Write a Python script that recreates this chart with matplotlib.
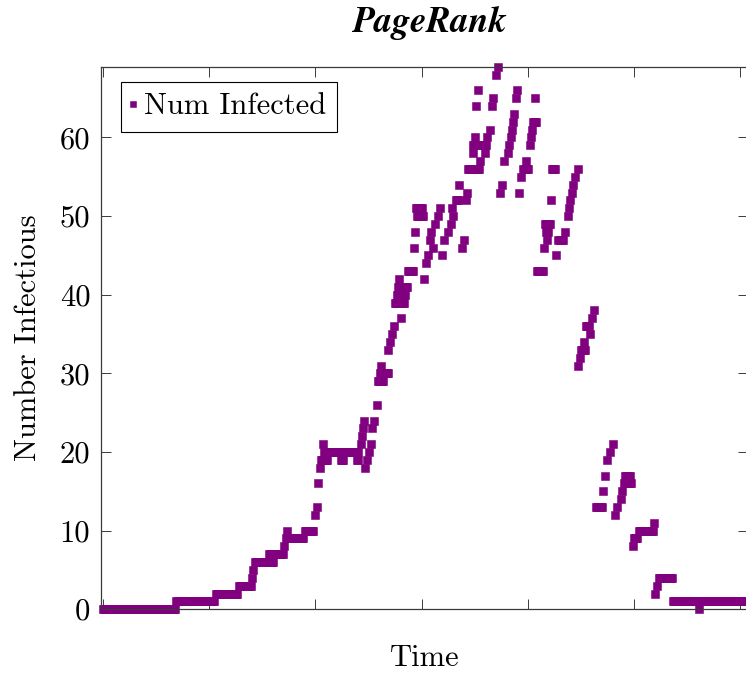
import numpy as np
import matplotlib

matplotlib.use("Agg")
import matplotlib.pyplot as plt

# runs of equal values: start time, end time, number infectious
run_start = [0, 69, 106, 128, 140, 141, 143, 156, 170, 172, 173, 190, 200, 201,
             202, 204, 205, 207, 208, 224, 239, 243, 244, 245, 246, 247, 249,
             250, 252, 253, 255, 258, 259, 261, 262, 268, 270, 272, 274, 275,
             277, 278, 279, 281, 287, 293, 294, 295, 296, 302, 304, 306, 308,
             309, 311, 313, 315, 317, 319, 321, 325, 328, 329, 330, 332, 335,
             338, 340, 342, 343, 344, 348, 348, 350, 351, 353, 355, 360, 362,
             364, 366, 367, 370, 372, 374, 376, 378, 381, 382, 384, 385, 386,
             387, 389, 390, 392, 394, 396, 398, 402, 403, 404, 405, 407, 409,
             415, 416, 417, 418, 422, 423, 427, 429, 435, 438, 439, 440, 442,
             443, 445, 447, 447, 449, 450, 453, 455, 459, 461, 462, 464, 471,
             473, 475, 478, 480, 482, 484, 488, 489, 491, 492, 499, 500, 505,
             519, 520, 522, 524, 537, 561]
run_end = [68, 104, 126, 139, 140, 141, 160, 169, 170, 188, 173, 198, 200, 201,
           202, 204, 211, 207, 240, 226, 240, 243, 244, 245, 246, 247, 249,
           250, 252, 253, 255, 258, 264, 268, 262, 268, 270, 272, 274, 283,
           284, 286, 279, 281, 292, 293, 294, 300, 301, 302, 304, 306, 308,
           309, 311, 313, 315, 317, 319, 321, 325, 328, 329, 330, 334, 335,
           338, 340, 342, 343, 354, 348, 361, 350, 351, 353, 355, 360, 362,
           364, 366, 367, 370, 372, 374, 376, 378, 381, 382, 384, 385, 386,
           387, 389, 390, 392, 394, 400, 398, 402, 403, 404, 408, 407, 414,
           415, 421, 419, 418, 422, 426, 427, 433, 435, 438, 439, 440, 442,
           443, 445, 447, 447, 449, 454, 453, 458, 459, 461, 462, 470, 471,
           473, 475, 478, 480, 482, 484, 488, 489, 497, 496, 499, 503, 518,
           519, 520, 522, 536, 607, 561]
run_value = [0, 1, 2, 3, 4, 5, 6, 7, 8, 9, 10, 10, 12, 13,
             16, 18, 19, 21, 20, 19, 19, 21, 22, 23, 24, 18, 19,
             20, 21, 23, 24, 26, 29, 30, 31, 33, 34, 35, 36, 39,
             40, 41, 42, 37, 43, 46, 48, 51, 50, 42, 44, 45, 47,
             48, 46, 49, 50, 51, 45, 47, 48, 49, 51, 50, 52, 54,
             46, 47, 52, 53, 56, 58, 59, 60, 64, 66, 57, 58, 60,
             61, 64, 65, 68, 69, 53, 54, 57, 58, 59, 60, 61, 62,
             63, 65, 66, 53, 55, 56, 57, 59, 60, 61, 62, 65, 43,
             46, 49, 48, 47, 52, 56, 45, 47, 48, 50, 51, 52, 53,
             54, 55, 56, 31, 32, 33, 34, 36, 35, 37, 38, 13, 15,
             17, 19, 20, 21, 12, 13, 14, 15, 16, 17, 8, 9, 10,
             11, 2, 3, 4, 1, 0]

y_ticks = [0, 10, 20, 30, 40, 50, 60]
y_tick_labels = ["0", "10", "20", "30", "40", "50", "60"]
x_ticks = [0, 100, 200, 300, 400, 500, 600]

PURPLE = "#800080"
AXIS = "#3a3a3a"


def expand_runs(starts, ends, values):
    """
    Turn the run table into one point per time step.
    """
    xs, ys = [], []
    for s, e, v in zip(starts, ends, values):
        t = np.arange(s, e + 1)
        xs.append(t)
        ys.append(np.full(len(t), v))
    return np.concatenate(xs), np.concatenate(ys)


def main() -> None:
    plt.rcParams["font.family"] = "cmr10"
    plt.rcParams["mathtext.fontset"] = "cm"
    plt.rcParams["axes.formatter.use_mathtext"] = True
    plt.rcParams["font.size"] = 22

    time, infected = expand_runs(run_start, run_end, run_value)

    fig = plt.figure(figsize=(7.46, 6.73), dpi=100)
    ax = fig.add_axes([0.136, 0.0947, 0.8667, 0.8062])

    ax.plot(time, infected, linestyle="none", marker="s", markersize=6.0,
            markerfacecolor=PURPLE, markeredgecolor=PURPLE,
            markeredgewidth=0.4, clip_on=False, label="Num Infected")

    ax.set_xlim(-1.7, 607.6)
    ax.set_ylim(0, 69)
    ax.set_xticks(x_ticks)
    ax.set_yticks(y_ticks)
    ax.set_yticklabels(y_tick_labels)
    ax.tick_params(axis="both", direction="in", length=7.2, width=0.7,
                   color=AXIS, top=True, right=True, labelsize=22)
    ax.tick_params(axis="x", labelbottom=False)
    ax.tick_params(axis="y", pad=8)
    for sp in ax.spines.values():
        sp.set_color(AXIS)
        sp.set_linewidth(0.9)

    ax.set_xlabel("Time", va="baseline")
    ax.xaxis.set_label_coords(0.5, -0.1045)
    ax.set_ylabel("Number Infectious", va="center")
    ax.yaxis.set_label_coords(-0.1137, 0.5)

    ax.set_title("PageRank", family="STIXGeneral", style="italic",
                 weight="bold", fontsize=26, pad=25, x=0.508)

    leg = ax.legend(loc="upper left", bbox_to_anchor=(0.0297, 0.9725),
                    borderaxespad=0, fancybox=False, edgecolor="black",
                    framealpha=1, handlelength=0.05, handletextpad=0.33,
                    borderpad=0.37, markerscale=0.8, fontsize=22)
    leg.get_frame().set_linewidth(0.8)

    fig.savefig("out.png", dpi=100)


if __name__ == "__main__":
    main()
